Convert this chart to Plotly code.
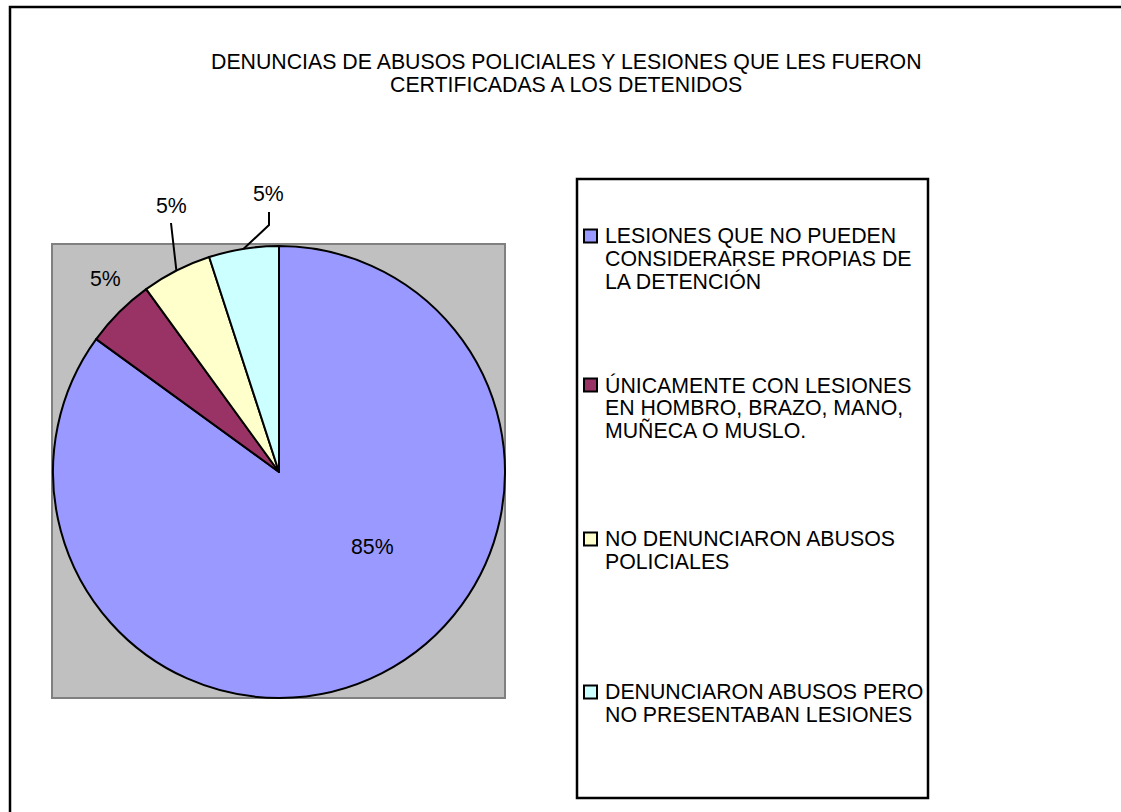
import math
import textwrap
import plotly.graph_objects as go

# ---------------- data ----------------
categories = [
    "LESIONES QUE NO PUEDEN CONSIDERARSE PROPIAS DE LA DETENCIÓN",
    "ÚNICAMENTE CON LESIONES EN HOMBRO, BRAZO, MANO, MUÑECA O MUSLO.",
    "NO DENUNCIARON ABUSOS POLICIALES",
    "DENUNCIARON ABUSOS PERO NO PRESENTABAN LESIONES",
]
values = [85, 5, 5, 5]
colors = ["#9999FF", "#993366", "#FFFFCC", "#CCFFFF"]
title_lines = [
    "DENUNCIAS DE ABUSOS POLICIALES Y LESIONES QUE LES FUERON",
    "CERTIFICADAS A LOS DETENIDOS",
]

# ---------------- layout helpers (pixel -> paper) ----------------
W, H = 1121, 812
def px(x):
    return x / W
def py(y):
    return 1 - y / H

FONT = "Liberation Sans, Arial, sans-serif"
FS = 21.3
CX, CY, R = 279, 472, 226          # pie centre / radius in pixels

fig = go.Figure()
fig.add_trace(go.Pie(
    values=values,
    labels=categories,
    marker=dict(colors=colors, line=dict(color="black", width=2)),
    sort=False,
    direction="clockwise",
    rotation=0,
    textinfo="none",
    hoverinfo="label+percent",
    showlegend=False,
    domain=dict(x=[px(CX - R), px(CX + R)], y=[py(CY + R), py(CY - R)]),
))

shapes = []
annotations = []

# outer chart frame
shapes.append(dict(type="rect", xref="paper", yref="paper",
                   x0=px(10), y0=py(7), x1=px(1135), y1=py(830),
                   line=dict(color="black", width=2.5), layer="below"))
# grey plot area
shapes.append(dict(type="rect", xref="paper", yref="paper",
                   x0=px(52), y0=py(244), x1=px(505), y1=py(698),
                   fillcolor="#C0C0C0", line=dict(color="#808080", width=2),
                   layer="below"))

# title
for k, t in enumerate(title_lines):
    annotations.append(dict(text=t, x=px(566), y=py(62 + 23 * k), xref="paper", yref="paper",
                            xanchor="center", yanchor="middle", showarrow=False,
                            font=dict(family=FONT, size=FS, color="black")))

# data labels with leader lines
total = sum(values)
label_pos = [(372, 547), (105, 279), (171, 206), (268, 194)]
elbows = [None, None, [(172, 232), (171, 223)], [(269, 225), (269, 212)]]
cum = 0
for i, v in enumerate(values):
    theta = math.radians(360 * (cum + v / 2) / total)
    cum += v
    pct = round(100 * v / total)
    lx, ly = label_pos[i]
    annotations.append(dict(text=f"{pct}%", x=px(lx), y=py(ly), xref="paper", yref="paper",
                            xanchor="center", yanchor="middle", showarrow=False,
                            font=dict(family=FONT, size=FS, color="black")))
    if elbows[i]:
        ex = CX + R * math.sin(theta)
        ey = CY - R * math.cos(theta)
        pts = [(ex, ey)] + elbows[i]
        path = "M " + " L ".join(f"{px(x)},{py(y)}" for x, y in pts)
        shapes.append(dict(type="path", xref="paper", yref="paper", path=path,
                           line=dict(color="black", width=2)))

# legend box
shapes.append(dict(type="rect", xref="paper", yref="paper",
                   x0=px(577), y0=py(179), x1=px(928), y1=py(798),
                   fillcolor="white", line=dict(color="black", width=2.5), layer="below"))
item_y = [236, 385, 539, 692]
LINE = 22.8
for i, cat in enumerate(categories):
    y0 = item_y[i]
    shapes.append(dict(type="rect", xref="paper", yref="paper",
                       x0=px(584), y0=py(y0 - 6.5), x1=px(597), y1=py(y0 + 6.5),
                       fillcolor=colors[i], line=dict(color="black", width=2)))
    for k, line in enumerate(textwrap.wrap(cat, 23)):
        annotations.append(dict(text=line, x=px(603), y=py(y0 + LINE * k), xref="paper", yref="paper",
                                xanchor="left", yanchor="middle", showarrow=False,
                                font=dict(family=FONT, size=FS, color="black")))

fig.update_layout(
    width=W, height=H,
    margin=dict(l=0, r=0, t=0, b=0),
    paper_bgcolor="white",
    plot_bgcolor="white",
    showlegend=False,
    shapes=shapes,
    annotations=annotations,
)

fig.write_html("out.html", config={"displayModeBar": False},
               post_script="document.body.style.margin='0px';")
